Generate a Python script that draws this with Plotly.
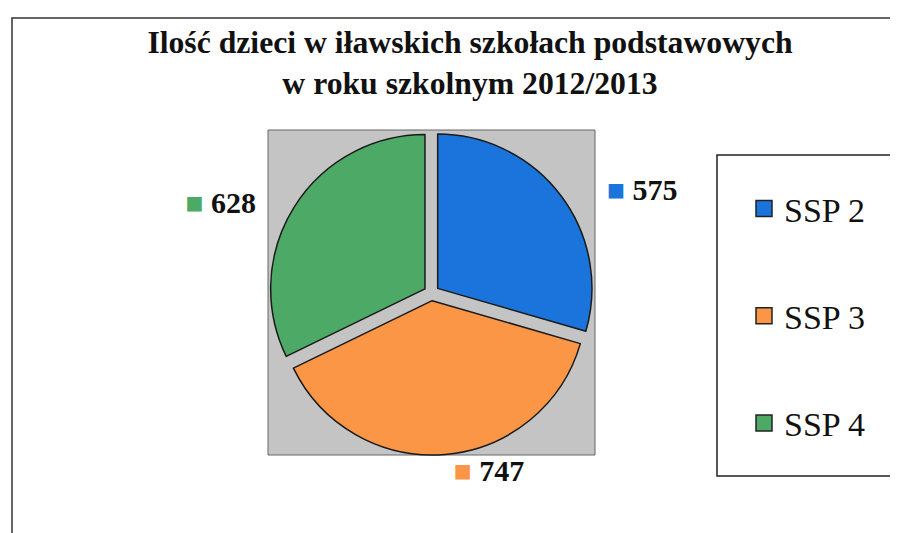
import plotly.graph_objects as go

categories = ["SSP 2", "SSP 3", "SSP 4"]
values = [575, 747, 628]
colors = ["#1A74DC", "#FA9646", "#4DAA66"]

W, H = 898, 533
OFF = 8  # default page body margin
def px(x): return (x - OFF) / W
def py(y): return 1 - (y - OFF) / H

NB = "\u00a0"
sq = "<span style='color:%{color}'>■</span>"
templates = [
    NB * 5 + sq + NB + "<b>%{value}</b>",
    sq + NB + "<b>%{value}</b>",
    sq + NB + "<b>%{value}</b>" + NB * 4,
]

fig = go.Figure()

fig.add_trace(go.Pie(
    labels=categories, values=values, sort=False, direction="clockwise",
    rotation=0, pull=[0.05, 0.05, 0.05],
    marker=dict(colors=colors, line=dict(color="#1a1a1a", width=1.5)),
    textposition="outside",
    texttemplate=templates,
    textfont=dict(family="Liberation Serif", size=30, color="#111"),
    showlegend=False,
    domain=dict(x=[px(268), px(595)], y=[py(455), py(131)]),
))

for c, col in zip(categories, colors):
    fig.add_trace(go.Scatter(
        x=[None], y=[None], mode="markers", name=c, legendgroup=c,
        marker=dict(symbol="square", size=18, color=col,
                    line=dict(color="#222", width=1.5)),
    ))

fig.update_layout(
    width=W, height=H,
    margin=dict(l=0, r=0, t=0, b=0),
    paper_bgcolor="white", plot_bgcolor="white",
    xaxis=dict(visible=False, range=[0, 1]),
    yaxis=dict(visible=False, range=[0, 1]),
    title=dict(
        text="<b>Ilość dzieci w iławskich szkołach podstawowych<br>w roku szkolnym 2012/2013</b>",
        x=px(470), xanchor="center", y=py(53), yanchor="top",
        font=dict(family="Liberation Serif", size=31.7, color="#111"),
    ),
    legend=dict(
        x=px(744), xanchor="left", y=py(180), yanchor="top",
        font=dict(family="Liberation Serif", size=34, color="#111"),
        bgcolor="rgba(0,0,0,0)", tracegroupgap=60, traceorder="grouped",
    ),
    shapes=[
        dict(type="rect", xref="paper", yref="paper",
             x0=px(12), x1=px(930), y0=py(560), y1=py(18),
             line=dict(color="#333", width=1.5), fillcolor="rgba(0,0,0,0)", layer="below"),
        dict(type="rect", xref="paper", yref="paper",
             x0=px(268), x1=px(595), y0=py(455), y1=py(130),
             line=dict(color="#666", width=1), fillcolor="#C4C4C4", layer="below"),
        dict(type="rect", xref="paper", yref="paper",
             x0=px(717), x1=px(930), y0=py(476), y1=py(155),
             line=dict(color="#222", width=1.5), fillcolor="white", layer="below"),
    ],
)

fig.write_html("out.html")
